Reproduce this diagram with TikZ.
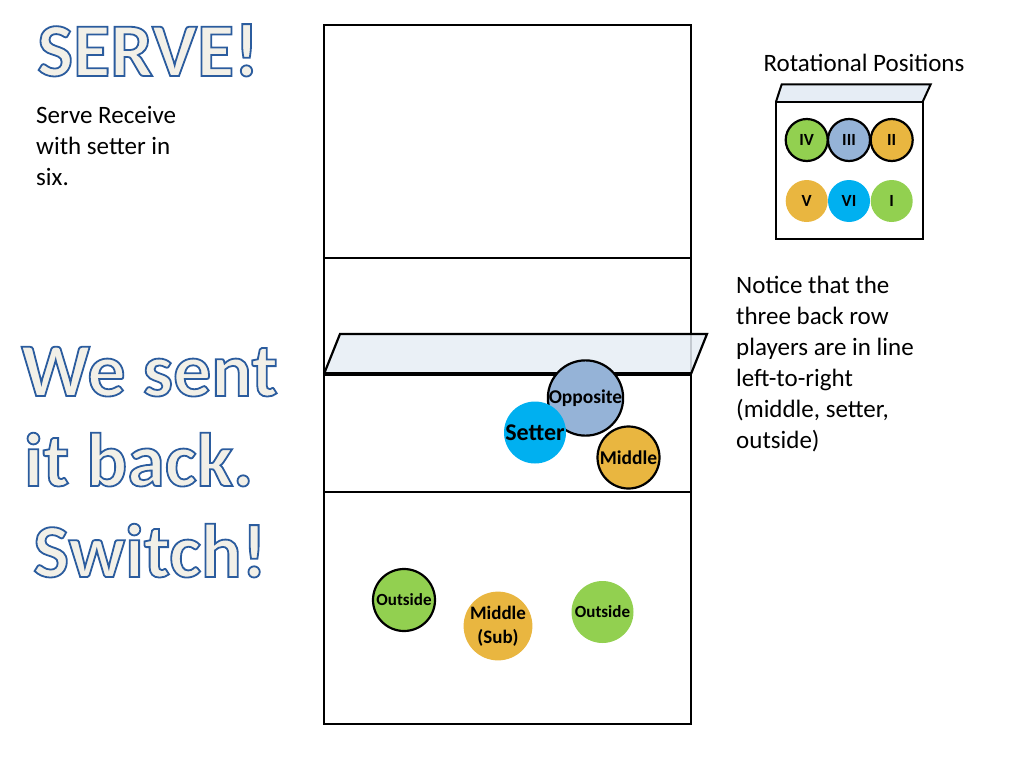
\documentclass[tikz,border=0pt]{standalone}
\usepackage{fontspec}
\setmainfont{Carlito}
\definecolor{pgreen}{HTML}{92D050}
\definecolor{pgold}{HTML}{E9B640}
\definecolor{pgrey}{HTML}{95B3D7}
\definecolor{pcyan}{HTML}{00B0F0}
\definecolor{netfill}{HTML}{E6EDF5}
\newcommand\outlinetxt[1]{\special{pdf:literal q 2 Tr 1.8 w 0.17 0.36 0.62 RG 0.95 0.94 0.91 rg}#1\special{pdf:literal Q}}
\begin{document}
\begin{tikzpicture}[x=1pt,y=-1pt,
  court/.style={draw=black,line width=2.2pt},
  player/.style={circle,minimum size=62pt,inner sep=0pt,align=center},
  ring/.style={draw=black,line width=2.2pt},
  rot/.style={circle,minimum size=42pt,inner sep=0pt,font=\bfseries\fontsize{17}{17}\selectfont},
  body/.style={anchor=north west,inner sep=0pt,align=left,font=\fontsize{25}{31}\selectfont},
  title/.style={anchor=base west,inner sep=0pt,font=\bfseries\fontsize{76}{90}\selectfont}
]
\useasboundingbox (0,0) rectangle (1024,768);

% titles
\node[title] (serve) at (37,76) {\outlinetxt{SERVE!}};
\node[title] (sent1) at (21,396) {\outlinetxt{We sent}};
\node[title] (sent2) at (24,486) {\outlinetxt{it back.}};
\node[title] (sent3) at (33,577) {\outlinetxt{Switch!}};

% body texts
\node[body] (serverec) at (36,101.5) {\strut Serve Receive\\with setter in\\six.};
\node[body] (notice) at (736,272) {\strut Notice that the\\three back row\\players are in line\\left-to-right\\(middle, setter,\\outside)};

% court
\draw[court] (324,25) rectangle (691,724);
\draw[court] (324,258) -- (691,258);
\draw[court] (324,492) -- (691,492);
\fill[netfill,fill opacity=0.85] (340,334) -- (707,334) -- (691,374) -- (324,374) -- cycle;
\draw[court,line join=miter] (324,374) -- (340,334) -- (707,334) -- (691,374);
\draw[line width=4pt] (324,374) -- (691,374);

% players
\node[player,ring,fill=pgrey,font=\bfseries\fontsize{19.5}{20}\selectfont] (opp) at (585.5,398) {Opposite};
\node[player,fill=pcyan,font=\bfseries\fontsize{24}{24}\selectfont] (setter) at (535,432.5) {Setter};
\node[player,ring,fill=pgold,font=\bfseries\fontsize{19.5}{20}\selectfont] (mid) at (628.5,457.5) {Middle};
\node[player,ring,fill=pgreen,font=\bfseries\fontsize{17}{18}\selectfont] (out1) at (404,600) {Outside};
\node[player,fill=pgold,font=\bfseries\fontsize{19}{24}\selectfont] (midsub) at (498,626) {Middle\\(Sub)};
\node[player,fill=pgreen,font=\bfseries\fontsize{17}{18}\selectfont] (out2) at (602.5,612) {Outside};

% rotational positions
\node[anchor=base,inner sep=0pt,font=\fontsize{25}{30}\selectfont] (rottitle) at (864,71) {Rotational Positions};
\fill[netfill] (781.7,84.3) -- (930.7,84.3) -- (922.7,101.7) -- (776,101.7) -- cycle;
\draw[line width=2pt,line join=miter] (776,101.7) -- (781.7,84.3) -- (930.7,84.3) -- (922.7,101.7);
\draw[line width=2pt] (776,101.7) rectangle (922.7,239.3);
\node[rot,ring,fill=pgreen] (p4) at (806.7,140) {IV};
\node[rot,ring,fill=pgrey] (p3) at (849,140) {III};
\node[rot,ring,fill=pgold] (p2) at (891.7,140) {II};
\node[rot,fill=pgold] (p5) at (806.7,201) {V};
\node[rot,fill=pcyan] (p6) at (849,201) {VI};
\node[rot,fill=pgreen] (p1) at (891.7,201) {I};
\end{tikzpicture}
\end{document}
